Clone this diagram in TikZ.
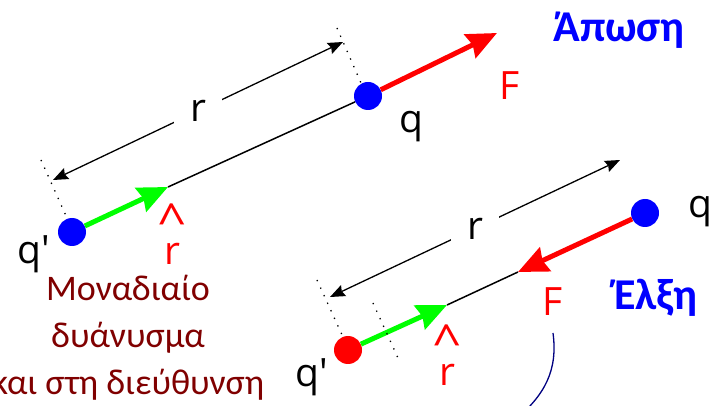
\documentclass[tikz,border=0pt]{standalone}
\usepackage{fontspec}
\setmainfont{Open Sans}
\newfontfamily\titlefont{Carlito}
\usepackage{xcolor}
\usetikzlibrary{arrows.meta,positioning}
\definecolor{darkred}{RGB}{128,0,0}
\definecolor{pureblue}{RGB}{0,0,255}
\definecolor{purered}{RGB}{255,0,0}
\definecolor{puregreen}{RGB}{0,255,0}
\definecolor{navyline}{RGB}{0,0,128}
\newcommand{\rhat}{\scalebox{1.3}[1.2]{\textasciicircum}\\[-17pt]r}
\newcommand{\qprime}{q\textquotesingle}

\begin{document}
\begin{tikzpicture}[x=1pt, y=-1pt,
    charge/.style={circle, minimum size=28pt, inner sep=0pt},
    force/.style={line width=5pt, -{Stealth[length=30pt, width=26pt, inset=3pt]}},
    dim/.style={line width=1.3pt, {Stealth[length=15pt, width=12pt, inset=2pt]}-{Stealth[length=15pt, width=12pt, inset=2pt]}},
    extline/.style={line width=1.3pt, dash pattern=on 1.3pt off 7pt},
    lbl/.style={font=\fontsize{39}{44}\selectfont},
    head/.style={font=\titlefont\bfseries\fontsize{44}{50}\selectfont, text=pureblue},
]
\clip (0,0) rectangle (724,406);

% repulsion
\node[charge, fill=pureblue] (qa) at (72,232) {};
\node[charge, fill=pureblue] (qb) at (368,96) {};
\coordinate (rta) at (168,187);
\coordinate (fta) at (497,33);
\draw[force, puregreen] (qa) -- (rta);
\draw[line width=1.5pt] (rta) -- (qb);
\draw[force, purered] (qb) -- (fta);
\coordinate (da) at (53,180);
\coordinate (db) at (343,42);
\draw[dim] (da) -- node[lbl, fill=white, minimum width=48pt, minimum height=28pt, inner sep=0pt] (ra) {r} (db);
\draw[extline] (41,160) -- (67,218);
\draw[extline] (337,28) -- (361,83);
\node[lbl] (qla) at (34,254) {\qprime};
\node[lbl, below right=2pt and 18pt of qb] (qlb) {q};
\node[lbl, text=purered] (fla) at (510,86) {F};
\node[lbl, text=purered, align=center, inner sep=0pt] (rla) at (172,234) {\rhat};
\node[head] (rep) at (619,30) {Άπωση};

% unit vector note
\node[font=\titlefont\fontsize{36}{47}\selectfont, text=darkred, align=center] (unit) at (128,338)
    {Μοναδιαίο\\δυάνυσμα\\και στη διεύθυνση};

% attraction
\node[charge, fill=purered] (qc) at (348,350) {};
\node[charge, fill=pureblue] (qd) at (645,213) {};
\coordinate (rtb) at (447,305);
\coordinate (ftb) at (518,272);
\draw[force, puregreen] (qc) -- (rtb);
\draw[line width=1.5pt] (rtb) -- (ftb);
\draw[force, purered] (qd) -- (ftb);
\coordinate (dc) at (330,297);
\coordinate (dd) at (620,160);
\draw[dim] (dc) -- node[lbl, fill=white, minimum width=48pt, minimum height=28pt, inner sep=0pt] (rb) {r} (dd);
\draw[extline] (317,280) -- (343,337);
\draw[extline] (373,303) -- (398,358);
\node[lbl] (qlc) at (312,377) {\qprime};
\node[lbl] (qld) at (700,212) {q};
\node[lbl, text=purered] (flb) at (553,302) {F};
\node[lbl, text=purered, align=center, inner sep=0pt] (rlb) at (447,355) {\rhat};
\node[head] (att) at (656,298) {Έλξη};
\draw[navyline, line width=1.3pt] (553,333) .. controls (558,370) and (545,395) .. (515,420);
\end{tikzpicture}
\end{document}
